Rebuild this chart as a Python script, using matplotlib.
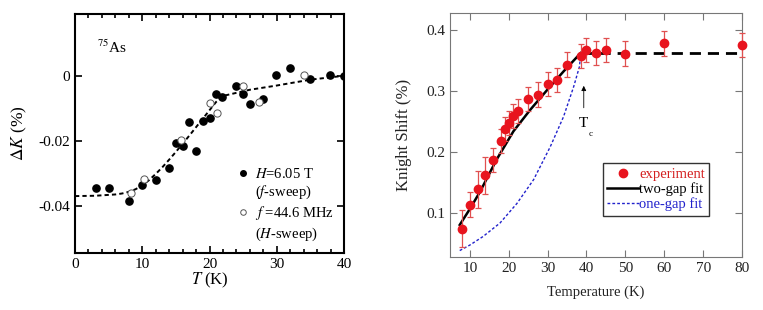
import numpy as np
import matplotlib
matplotlib.use("Agg")
import matplotlib.pyplot as plt
from matplotlib.lines import Line2D

plt.rcParams["font.family"] = ["Liberation Serif", "DejaVu Serif"]
plt.rcParams["mathtext.fontset"] = "stix"

# left panel: 75As Knight shift change
T_field = [3.1, 5.0, 8.0, 10.0, 12.0, 14.0, 15.0, 16.0, 16.9, 18.0, 19.0, 20.0,
           20.9, 21.9, 23.9, 25.0, 26.0, 27.9, 29.9, 31.9, 34.9, 37.9, 40.0]
dK_field = [-0.0345, -0.0345, -0.0386, -0.0337, -0.0322, -0.0285, -0.0208, -0.0216,
            -0.0142, -0.0230, -0.0138, -0.0131, -0.0057, -0.0065, -0.0032, -0.0057,
            -0.0087, -0.0070, 0.0001, 0.0025, -0.0010, 0.0003, 0.0]
T_freq = [8.3, 10.3, 15.7, 20.1, 21.1, 25.05, 27.4, 34.1]
dK_freq = [-0.0362, -0.0316, -0.0197, -0.0083, -0.0115, -0.0031, -0.0082, 0.0001]
T_fitL = [0, 3, 6, 7, 8, 9, 10, 11, 12, 13, 14, 15, 16, 17, 18, 19, 20, 21, 22,
          26, 30, 35, 40]
dK_fitL = [-0.0370, -0.0369, -0.0365, -0.0362, -0.0357, -0.0349, -0.0337, -0.0321,
           -0.0302, -0.0281, -0.0258, -0.0234, -0.0209, -0.0184, -0.0158, -0.0132,
           -0.0106, -0.0080, -0.0062, -0.0043, -0.0030, -0.0012, 0.0]

# right panel: Knight shift vs temperature
T_exp = [8, 10, 12, 14, 16, 18, 19, 20, 21, 22.5, 25, 27.5, 30, 32.5, 35, 38.5,
         40, 42.5, 45, 50, 60, 80]
K_exp = [0.075, 0.114, 0.139, 0.162, 0.187, 0.218, 0.238, 0.248, 0.259, 0.267,
         0.287, 0.294, 0.311, 0.318, 0.343, 0.357, 0.367, 0.362, 0.367, 0.361,
         0.378, 0.375]
K_err = [0.03, 0.02, 0.03, 0.03, 0.02, 0.02, 0.02, 0.02, 0.02, 0.02, 0.02, 0.02,
         0.02, 0.02, 0.02, 0.02, 0.02, 0.02, 0.02, 0.02, 0.02, 0.02]
T_two = [7.4, 10, 12.6, 16.9, 21.2, 25.5, 29.8, 34.1, 38.5]
K_two = [0.081, 0.107, 0.135, 0.188, 0.234, 0.269, 0.301, 0.332, 0.362]
T_one = [7.4, 10, 13.4, 17.75, 22.1, 26.4, 30.7, 34.1, 36.7, 38.2, 38.5]
K_one = [0.039, 0.048, 0.062, 0.084, 0.116, 0.155, 0.209, 0.258, 0.307, 0.340, 0.362]
T_normal = [38.5, 80]
K_normal = [0.362, 0.362]

fig = plt.figure(figsize=(7.63, 3.10), dpi=100)

# ---- left panel
ax1 = fig.add_axes([0.0983, 0.1839, 0.3526, 0.7710])
ax1.plot(T_fitL, dK_fitL, color="black", lw=1.4, dashes=(2.2, 1.6), zorder=2)
ax1.plot(T_field, dK_field, "o", color="black", ms=5.2, zorder=3)
ax1.plot(T_freq, dK_freq, "o", mfc="white", mec="#555555", mew=0.7, ms=5.2, zorder=3)
ax1.set_xlim(0, 40)
ax1.set_ylim(-0.0545, 0.019)
ax1.set_xticks([0, 10, 20, 30, 40])
ax1.set_xticks(np.arange(0, 41, 2), minor=True)
ax1.set_yticks([0, -0.02, -0.04])
ax1.set_yticklabels(["0", "-0.02", "-0.04"])
ax1.tick_params(which="both", direction="in", top=True, right=True, labelsize=11,
                width=1.2, colors="black")
ax1.tick_params(which="major", length=5)
ax1.tick_params(which="minor", length=3)
for s in ax1.spines.values():
    s.set_linewidth(1.5)
ax1.set_xlabel("$T$ (K)", fontsize=12, labelpad=0)
ax1.set_ylabel(r"$\Delta K$ (%)", fontsize=12.5, labelpad=7)
ax1.text(3.2, 0.0070, "$^{75}$As", fontsize=11)

h_field = Line2D([], [], ls="none", marker="o", color="black", ms=4)
h_freq = Line2D([], [], ls="none", marker="o", mfc="white", mec="#555555", mew=0.7, ms=4)
h_blank = Line2D([], [], ls="none")
ax1.legend([h_field, h_blank, h_freq, h_blank],
           ["$H$=6.05 T", "($f$-sweep)", "$f$ =44.6 MHz", "($H$-sweep)"],
           loc="upper left", bbox_to_anchor=(0.57, 0.39), frameon=False,
           fontsize=10.5, handlelength=1.0, handletextpad=0.3, labelspacing=0.2,
           borderpad=0)

# ---- right panel
ax2 = fig.add_axes([0.5898, 0.172, 0.3827, 0.787])
ax2.plot(T_one, K_one, color="#2222cc", lw=1.0, dashes=(2, 1.5), zorder=2)
ax2.plot(T_two, K_two, color="black", lw=1.8, zorder=2)
ax2.plot(T_normal, K_normal, color="black", lw=2.0, dashes=(4, 2.5), zorder=2)
ax2.errorbar(T_exp, K_exp, yerr=K_err, fmt="o", color="#e8141e", ms=6,
             ecolor="#e05050", elinewidth=0.9, capsize=2, capthick=0.9, zorder=3,
             clip_on=False)
ax2.set_xlim(4.9, 80)
ax2.set_ylim(0.029, 0.428)
ax2.set_xticks(np.arange(10, 81, 10))
ax2.set_yticks([0.1, 0.2, 0.3, 0.4])
ax2.tick_params(direction="in", top=True, right=True, length=5, width=0.8,
                labelsize=11, color="#777777", labelcolor="#222222")
for s in ax2.spines.values():
    s.set_linewidth(0.8)
    s.set_color("#777777")
ax2.set_xlabel("Temperature (K)", fontsize=10.5, labelpad=8, color="#222222")
ax2.set_ylabel("Knight Shift (%)", fontsize=12, labelpad=10, color="#222222")

ax2.annotate("", xy=(39.3, 0.313), xytext=(39.3, 0.268),
             arrowprops=dict(arrowstyle="-|>", color="black", lw=0.6,
                             mutation_scale=7))
ax2.text(39.3, 0.258, "T", ha="center", va="top", fontsize=11)
ax2.text(40.6, 0.236, "c", ha="left", va="top", fontsize=6.5)

h_exp = Line2D([], [], ls="none", marker="o", color="#e8141e", ms=6)
h_two = Line2D([], [], color="black", lw=1.8)
h_one = Line2D([], [], color="#2222cc", lw=1.0, dashes=(2, 1.5))
leg = ax2.legend([h_exp, h_two, h_one], ["experiment", "two-gap fit", "one-gap fit"],
                 loc="upper left", bbox_to_anchor=(0.523, 0.383), fontsize=10.5,
                 frameon=True, fancybox=False, edgecolor="black",
                 handlelength=2.2, handletextpad=0.0, labelspacing=0.1,
                 borderpad=0.3, borderaxespad=0)
leg.get_frame().set_linewidth(1.0)
for txt, col in zip(leg.get_texts(), ["#d42020", "black", "#2222cc"]):
    txt.set_color(col)

fig.savefig("out.png", dpi=100)
